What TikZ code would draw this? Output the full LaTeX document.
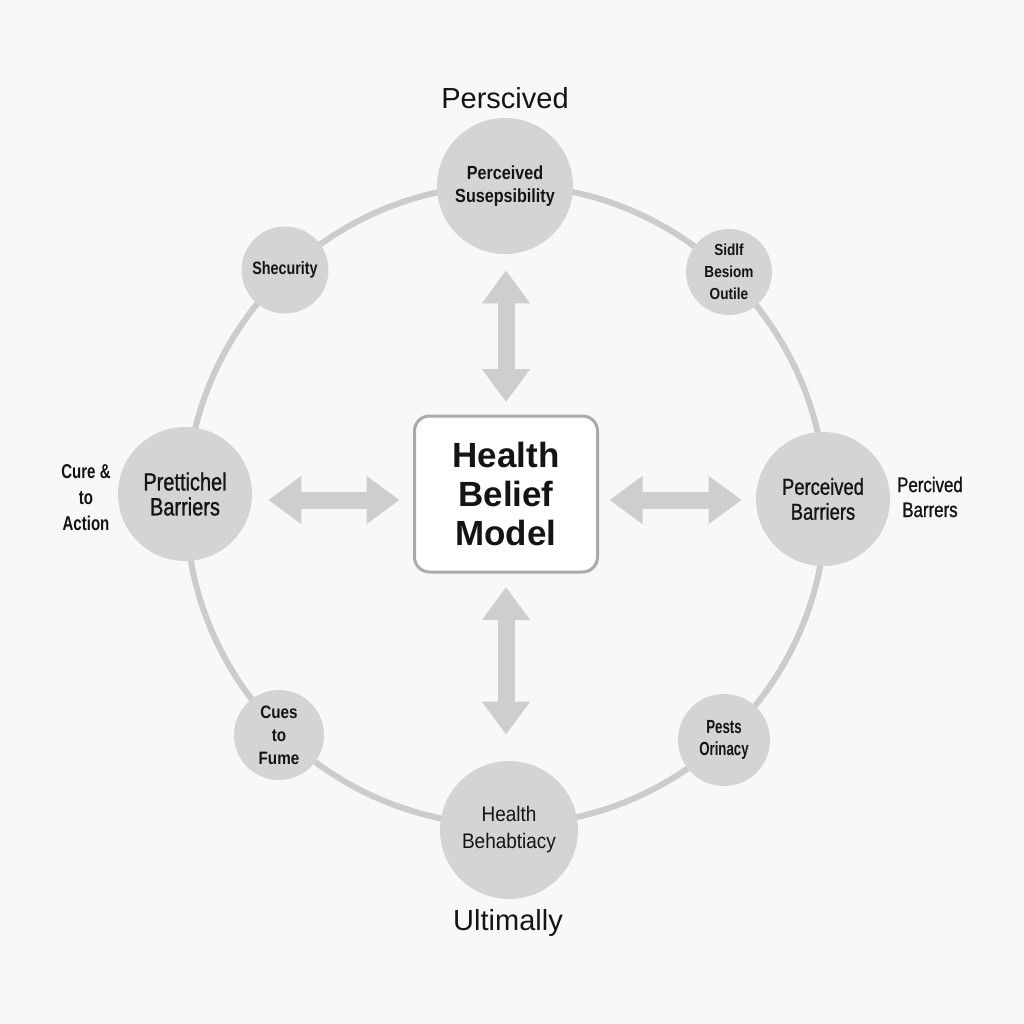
\documentclass[tikz,border=0pt]{standalone}
\usepackage{fontspec}
\setmainfont{Liberation Sans}
\newfontfamily\condninety[FakeStretch=0.9]{Liberation Sans}
\newfontfamily\condeightyfive[FakeStretch=0.85]{Liberation Sans}
\newfontfamily\condeighty[FakeStretch=0.8]{Liberation Sans}
\newfontfamily\condmedium[FakeStretch=0.8,FakeBold=1]{Liberation Sans}
\newfontfamily\condseventyfive[FakeStretch=0.75]{Liberation Sans}
\newfontfamily\condseventy[FakeStretch=0.7]{Liberation Sans}
\usetikzlibrary{arrows.meta,positioning}
\definecolor{bgcol}{RGB}{248,248,248}
\definecolor{discfill}{RGB}{212,212,212}
\definecolor{ringcol}{RGB}{204,204,204}
\definecolor{arrcol}{RGB}{206,206,206}
\definecolor{boxline}{RGB}{170,170,170}
\definecolor{inkcol}{RGB}{20,20,20}

\begin{document}
\begin{tikzpicture}[x=0.2mm,y=-0.2mm,
    disc/.style={circle,fill=discfill,text=inkcol,align=center,inner sep=0pt},
    sidelabel/.style={text=inkcol,align=center,inner sep=0pt},
    fatarrow/.style={arrcol,line width=3.4mm,{Triangle[length=6.6mm,width=9.2mm]}-{Triangle[length=6.6mm,width=9.2mm]}}]
        \fill[bgcol] (0,0) rectangle (1024,1024);
        \useasboundingbox (0,0) rectangle (1024,1024);
        % ring through all discs
        \draw[ringcol,line width=1.2mm] (506,505) circle[radius=64mm];
        % large discs
        \node[disc,minimum size=27.2mm,font=\condeightyfive\bfseries\fontsize{10.8pt}{13.1pt}\selectfont] (susc) at (505,186) {Perceived\\Susepsibility};
        \node[disc,minimum size=26.8mm,font=\condmedium\fontsize{14.2pt}{14.2pt}\selectfont] (prett) at (185,494) {Prettichel\\Barriers};
        \node[disc,minimum size=26.8mm,font=\condmedium\fontsize{13.1pt}{14.2pt}\selectfont] (barr) at (823,499) {Perceived\\Barriers};
        \node[disc,minimum size=27.6mm,font=\condninety\fontsize{12pt}{15.4pt}\selectfont] (behav) at (509,830) {Health\\Behabtiacy};
        % small discs
        \node[disc,minimum size=17.4mm,font=\condeighty\bfseries\fontsize{10.2pt}{12pt}\selectfont] (secur) at (285,270) {Shecurity};
        \node[disc,minimum size=17.2mm,font=\condeightyfive\bfseries\fontsize{9.1pt}{12.5pt}\selectfont] (sidlf) at (729,272) {Sidlf\\Besiom\\Outile};
        \node[disc,minimum size=18mm,font=\condeightyfive\bfseries\fontsize{10.2pt}{13.1pt}\selectfont] (cues) at (279,735) {Cues\\to\\Fume};
        \node[disc,minimum size=18.4mm,font=\condseventy\bfseries\fontsize{10.8pt}{12.5pt}\selectfont] (pests) at (724,740) {Pests\\Orinacy};
        % centre box
        \node[draw=boxline,line width=0.6mm,fill=white,rounded corners=3mm,minimum width=36.6mm,minimum height=31.2mm,
              text=inkcol,align=center,font=\bfseries\fontsize{19.9pt}{22.2pt}\selectfont] (hbm) at (506,494) {Health\\Belief\\Model};
        % two-way arrows
        \draw[fatarrow,shorten <=2.5mm,shorten >=3.2mm] (hbm.north) -- (hbm.north |- susc.south);
        \draw[fatarrow,shorten <=2.7mm,shorten >=5.2mm] (hbm.south) -- (hbm.south |- behav.north);
        \draw[fatarrow,shorten <=2.7mm,shorten >=3.2mm] ([yshift=-1.2mm]hbm.west) -- ([yshift=-1.2mm]hbm.west -| prett.east);
        \draw[fatarrow,shorten <=2.1mm,shorten >=2.8mm] ([yshift=-1.2mm]hbm.east) -- ([yshift=-1.2mm]hbm.east -| barr.west);
        % outside labels
        \node[sidelabel,anchor=base,font=\fontsize{16.5pt}{19pt}\selectfont] (topnote) at (505,108) {Perscived};
        \node[sidelabel,anchor=base,font=\fontsize{16.5pt}{19pt}\selectfont] (botnote) at (508,930) {Ultimally};
        \node[sidelabel,font=\condseventyfive\bfseries\fontsize{11.4pt}{14.8pt}\selectfont] (leftnote) at (86,498) {Cure \&\\to\\Action};
        \node[sidelabel,font=\condmedium\fontsize{12pt}{14.2pt}\selectfont] (rightnote) at (930,497) {Percived\\Barrers};
\end{tikzpicture}
\end{document}
